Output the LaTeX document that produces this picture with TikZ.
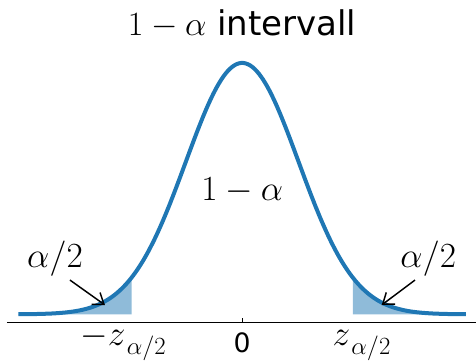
\RequirePackage{fix-cm}
\documentclass[tikz,border=0pt]{standalone}
\usepackage[no-math]{fontspec}
\setmainfont{DejaVu Sans}
\usetikzlibrary{arrows.meta}
\definecolor{curveblue}{HTML}{1F77B4}
\definecolor{tailblue}{HTML}{8FBBD9}
\tikzset{
  declare function={phi(\t)=exp(-\t*\t/2)/sqrt(2*pi);},
  density/.style={draw=curveblue,line width=3pt},
  tail/.style={fill=tailblue,draw=none},
  baseaxis/.style={draw=black,line width=0.8pt},
  pointer/.style={-{Straight Barb[length=7.5pt,width=11pt]},line width=1.1pt},
  mathlabel/.style={inner sep=0pt,anchor=base,font=\fontsize{26.5}{30}\selectfont},
  ticklabel/.style={inner sep=0pt,anchor=base,font=\fontsize{20}{24}\selectfont},
}
\newcommand{\halfsub}{\mkern2mu\raisebox{-3pt}{$\scriptstyle\alpha/2$}}

\begin{document}
\begin{tikzpicture}[x=42.3pt,y=472.5pt]
  \useasboundingbox (-4.294,-0.0773) rectangle (4.145,0.4989);

  % shaded tails
  \fill[tail] (-3.97,0) -- plot[domain=-3.97:-1.96,samples=40] (\x,{phi(\x)}) -- (-1.96,0) -- cycle;
  \fill[tail] (1.96,0) -- plot[domain=1.96:3.97,samples=40] (\x,{phi(\x)}) -- (3.97,0) -- cycle;
  \draw[density] plot[domain=-3.97:3.97,samples=200,smooth] (\x,{phi(\x)});

  % axis
  \coordinate (axl) at (-4.17,-0.0127);
  \coordinate (axr) at (4.145,-0.0127);
  \coordinate (axo) at (0,-0.0127);
  \draw[baseaxis] (axl) -- (axr);
  \draw[baseaxis] (axo) -- ++(0,3.2pt);

  \node[mathlabel,font=\fontsize{25.5}{30}\selectfont] (title) at (0,0.4433) {$1-\alpha$ intervall};
  \node[mathlabel] (inner) at (0,0.1806) {$1-\alpha$};
  \node[mathlabel] (lhalf) at (-3.32,0.0751) {$\alpha/2$};
  \node[mathlabel] (rhalf) at (3.30,0.0751) {$\alpha/2$};
  \node[mathlabel] (lcrit) at (-2.105,-0.0487) {$-z_{\halfsub}$};
  \node[mathlabel] (rcrit) at (2.12,-0.0487) {$z_{\halfsub}$};
  \node[ticklabel] (zero) at (0,-0.0603) {0};

  % arrows to the tails
  \coordinate (lfoot) at (-3.054,0.0544);
  \coordinate (ltip) at (-2.433,0.0148);
  \coordinate (rfoot) at (3.064,0.0544);
  \coordinate (rtip) at (2.473,0.0148);
  \draw[pointer] (lfoot) -- (ltip);
  \draw[pointer] (rfoot) -- (rtip);
\end{tikzpicture}
\end{document}
